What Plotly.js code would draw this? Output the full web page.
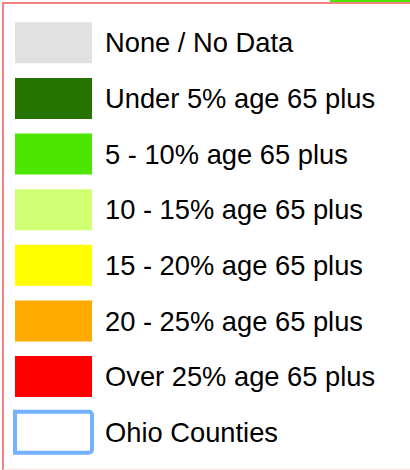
<!DOCTYPE html>
<html>
<head>
<meta charset="utf-8">
<script src="https://cdn.plot.ly/plotly-3.0.1.min.js"></script>
<style>
  html, body { margin: 0; padding: 0; background: #ffffff; }
  #wrap { position: relative; width: 410px; height: 470px; overflow: hidden; }
  #chart { position: absolute; left: 0; top: 0; width: 410px; height: 470px; }
  #frame { position: absolute; left: 2px; top: 2px; width: 404px; height: 465px;
           border-left: 2px solid #f28282; border-top: 2px solid #f28282;
           border-bottom: 1px solid #fbe3e3; pointer-events: none; }
  #topline { position: absolute; left: 406px; top: 2px; width: 4px; height: 2px; background: #f28282; }
  #bottomline { position: absolute; left: 406px; top: 469px; width: 4px; height: 1px; background: #fbe3e3; }
  #topbar { position: absolute; left: 330px; top: 0; width: 80px; height: 2px; background: #4ce600; }
</style>
</head>
<body>
<div id="wrap">
  <div id="chart"></div>
  <div id="frame"></div>
  <div id="topline"></div>
  <div id="bottomline"></div>
  <div id="topbar"></div>
</div>
<script>
// Legend categories (top to bottom)
const categories = [
  "None / No Data",
  "Under 5% age 65 plus",
  "5 - 10% age 65 plus",
  "10 - 15% age 65 plus",
  "15 - 20% age 65 plus",
  "20 - 25% age 65 plus",
  "Over 25% age 65 plus"
];
const fillColors = ["#e1e1e1", "#267300", "#4ce600", "#d1ff73", "#ffff00", "#ffaa00", "#ff0000"];
const swatchValues = [1, 1, 1, 1, 1, 1, 1];

const outlineCategory = ["Ohio Counties"];
const outlineValues = [1];
const outlineColor = "#73b2ff";

const fillTrace = {
  type: "bar",
  orientation: "h",
  y: categories,
  x: swatchValues,
  marker: { color: fillColors, line: { width: 0 } },
  hoverinfo: "skip",
  showlegend: false
};
const outlineTrace = {
  type: "bar",
  orientation: "h",
  y: outlineCategory,
  x: outlineValues,
  marker: { color: "#ffffff", line: { width: 4, color: outlineColor }, cornerradius: 3 },
  cliponaxis: false,
  hoverinfo: "skip",
  showlegend: false
};

// plot area spans 5..100 px; swatches span 15..92 px (77 px per unit)
const layout = {
  width: 410,
  height: 470,
  margin: { l: 5, r: 310, t: 14.6, b: 9.7, pad: 0 },
  paper_bgcolor: "#ffffff",
  plot_bgcolor: "rgba(0,0,0,0)",
  barmode: "overlay",
  bargap: 0.264,
  font: { family: "Liberation Sans, Arial, sans-serif", size: 27.3, color: "#000000" },
  xaxis: { visible: false, range: [-10 / 77, 1 + 8 / 77], fixedrange: true },
  yaxis: {
    type: "category",
    categoryorder: "array",
    categoryarray: categories.concat(outlineCategory),
    autorange: "reversed",
    side: "right",
    showgrid: false,
    zeroline: false,
    showline: false,
    ticks: "",
    ticklabelstandoff: 4,
    automargin: false,
    tickfont: { family: "Liberation Sans, Arial, sans-serif", size: 27.3, color: "#000000" },
    fixedrange: true
  },
  showlegend: false
};

Plotly.newPlot("chart", [fillTrace, outlineTrace], layout, { displayModeBar: false, staticPlot: true });
</script>
</body>
</html>
